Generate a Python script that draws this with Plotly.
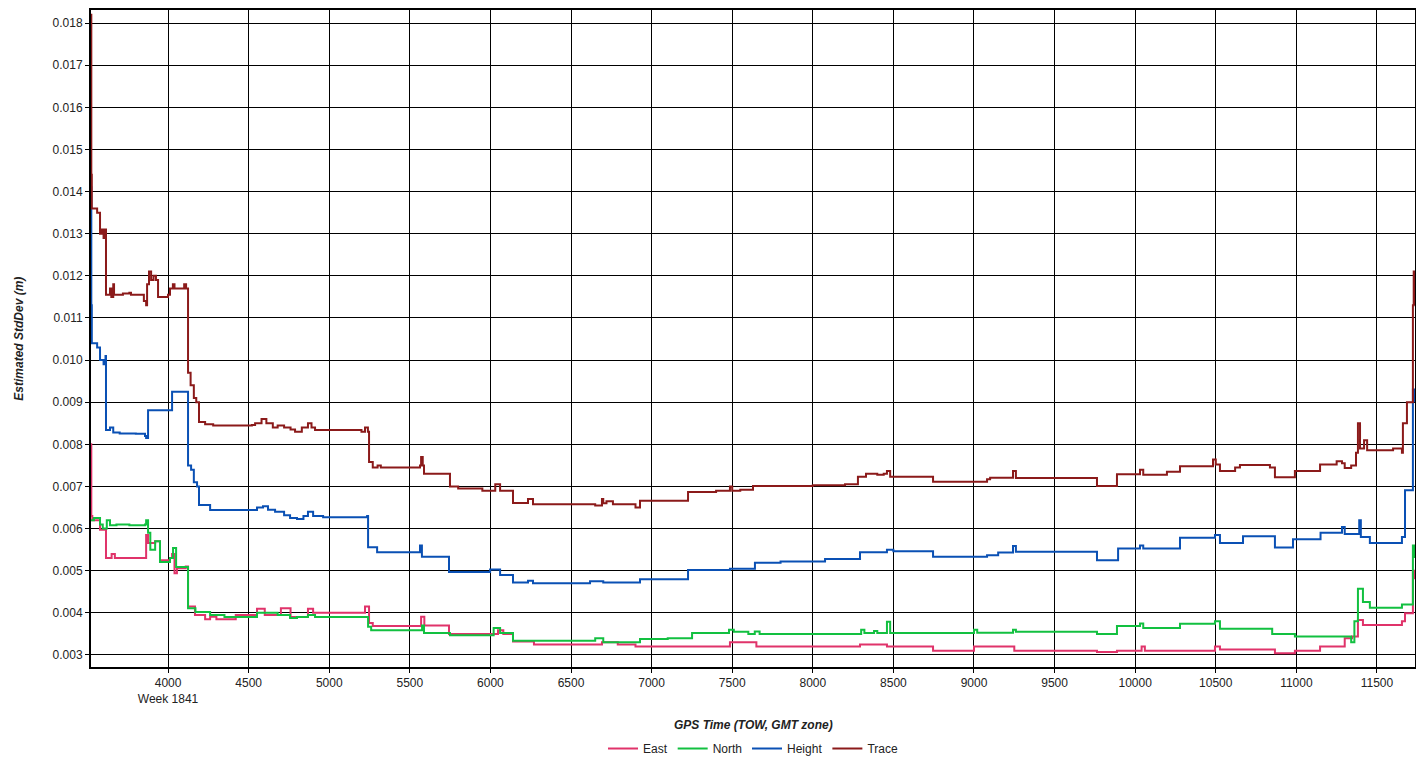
import plotly.graph_objects as go

# GPS time of week (s) and estimated std dev (m)
trace_x = [3522, 3524, 3527, 3560, 3578, 3590, 3600, 3612, 3615, 3640, 3648, 3660, 3665, 3720, 3760,
           3770, 3850, 3864, 3870, 3882, 3895, 3910, 3925, 3938, 4000, 4012, 4030, 4040, 4100, 4112,
           4124, 4140, 4160, 4175, 4192, 4230, 4280, 4520, 4540, 4580, 4610, 4650, 4680, 4720, 4760,
           4788, 4830, 4868, 4890, 4912, 5200, 5222, 5240, 5247, 5270, 5300, 5320, 5563, 5570, 5580,
           5588, 5749, 5800, 5950, 6030, 6060, 6140, 6233, 6264, 6650, 6692, 6700, 6720, 6760, 6900,
           6928, 7226, 7400, 7486, 7500, 7550, 7629, 8000, 8200, 8280, 8330, 8400, 8440, 8460, 8480,
           8746, 9081, 9100, 9242, 9260, 9763, 9887, 10030, 10050, 10197, 10278, 10483, 10500, 10526,
           10620, 10650, 10836, 10867, 10991, 11147, 11250, 11283, 11300, 11340, 11370, 11382, 11395,
           11420, 11439, 11600, 11655, 11661, 11686, 11723, 11728, 11735]
trace_y = [0.0182, 0.0144, 0.0136, 0.0135, 0.0130, 0.0131, 0.0129, 0.0131, 0.01155, 0.0117, 0.0115,
           0.0118, 0.01155, 0.01158, 0.0116, 0.01155, 0.0114, 0.0113, 0.0118, 0.0121, 0.0119, 0.0120,
           0.0119, 0.0115, 0.01155, 0.0117, 0.0118, 0.0117, 0.0118, 0.0117, 0.0097, 0.0094, 0.0091,
           0.0090, 0.00853, 0.00848, 0.00845, 0.00846, 0.0085, 0.0086, 0.0085, 0.0084, 0.00845,
           0.0084, 0.00835, 0.0083, 0.0084, 0.0085, 0.0084, 0.00834, 0.0083, 0.0084, 0.0083, 0.00758,
           0.00745, 0.0075, 0.00745, 0.0075, 0.0077, 0.0075, 0.0073, 0.0070, 0.00695, 0.0069, 0.00705,
           0.0069, 0.00661, 0.0067, 0.00658, 0.00655, 0.0067, 0.0066, 0.00665, 0.00658, 0.0065,
           0.00666, 0.00687, 0.0069, 0.0070, 0.0069, 0.00692, 0.00701, 0.00703, 0.00705, 0.00723,
           0.0073, 0.00728, 0.0073, 0.00737, 0.00723, 0.00711, 0.00717, 0.00721, 0.00737, 0.0072,
           0.00701, 0.00729, 0.0074, 0.00728, 0.00735, 0.00748, 0.00764, 0.00752, 0.00737, 0.00745,
           0.00751, 0.00745, 0.00722, 0.00737, 0.00752, 0.0076, 0.00755, 0.00744, 0.0075, 0.0078,
           0.0085, 0.0079, 0.0081, 0.00786, 0.0079, 0.0078, 0.0085, 0.0090, 0.0113, 0.0121, 0.0113]

height_x = [3522, 3524, 3527, 3560, 3578, 3600, 3612, 3615, 3640, 3660, 3700, 3800, 3857, 3864, 3876,
            4025, 4124, 4143, 4160, 4180, 4192, 4261, 4552, 4589, 4620, 4664, 4720, 4757, 4800, 4840,
            4868, 4900, 4962, 5235, 5241, 5297, 5563, 5575, 5743, 5998, 6060, 6140, 6233, 6264, 6618,
            6700, 6928, 7226, 7486, 7641, 7800, 8076, 8293, 8460, 8500, 8746, 9081, 9150, 9242, 9260,
            9763, 9894, 10030, 10050, 10278, 10495, 10526, 10669, 10867, 10979, 11150, 11283, 11300,
            11390, 11400, 11456, 11655, 11674, 11723, 11735]
height_y = [0.0141, 0.0113, 0.0104, 0.0103, 0.0100, 0.0099, 0.0101, 0.00834, 0.0084, 0.00828, 0.00826,
            0.00825, 0.0082, 0.00815, 0.00881, 0.00925, 0.0075, 0.0074, 0.0071, 0.0070, 0.00656,
            0.00644, 0.0065, 0.00653, 0.00645, 0.0064, 0.00632, 0.00625, 0.00623, 0.0063, 0.0064,
            0.0063, 0.00627, 0.0063, 0.00556, 0.00544, 0.0056, 0.00533, 0.00497, 0.00503, 0.0049,
            0.00472, 0.00476, 0.0047, 0.00475, 0.00472, 0.0048, 0.00502, 0.00505, 0.00519, 0.00522,
            0.00528, 0.00544, 0.0055, 0.00546, 0.00533, 0.00537, 0.00543, 0.00559, 0.00545, 0.00525,
            0.00553, 0.0056, 0.00553, 0.00578, 0.00585, 0.00566, 0.00582, 0.00555, 0.00575, 0.0059,
            0.00604, 0.00587, 0.0062, 0.0058, 0.00566, 0.0058, 0.00691, 0.0093, 0.0090]

north_x = [3522, 3540, 3578, 3595, 3620, 3640, 3680, 3760, 3857, 3864, 3876, 3890, 3920, 3950, 4012,
           4031, 4050, 4124, 4170, 4261, 4350, 4552, 4680, 4757, 4800, 4868, 4912, 5241, 5260, 5576,
           5588, 5749, 6020, 6060, 6140, 6650, 6700, 6928, 7100, 7251, 7480, 7510, 7600, 7640, 7670,
           8300, 8320, 8380, 8400, 8460, 8480, 9000, 9020, 9242, 9260, 9763, 9887, 10030, 10050, 10278,
           10495, 10526, 10850, 10991, 11340, 11360, 11382, 11413, 11456, 11655, 11723, 11735]
north_y = [0.0062, 0.00625, 0.0061, 0.0060, 0.0062, 0.00608, 0.0061, 0.00608, 0.0061, 0.0062, 0.0059,
           0.0055, 0.0057, 0.00521, 0.0053, 0.00554, 0.00509, 0.00411, 0.00402, 0.00395, 0.0039,
           0.0040, 0.00395, 0.00388, 0.0039, 0.00395, 0.0039, 0.00367, 0.00359, 0.0037, 0.00352,
           0.00347, 0.00364, 0.00352, 0.00334, 0.0034, 0.0033, 0.00338, 0.0034, 0.00352, 0.0036,
           0.00355, 0.0035, 0.00356, 0.0035, 0.0036, 0.00352, 0.00357, 0.00352, 0.00379, 0.00352,
           0.0036, 0.00353, 0.0036, 0.00355, 0.0035, 0.00369, 0.00375, 0.00364, 0.00374, 0.0038,
           0.00362, 0.0035, 0.00344, 0.0033, 0.0038, 0.00457, 0.00426, 0.00412, 0.0042, 0.0056, 0.0053]

east_x = [3522, 3524, 3530, 3578, 3615, 3650, 3670, 3864, 3876, 3920, 3950, 4012, 4025, 4040, 4055,
          4110, 4124, 4167, 4230, 4261, 4300, 4420, 4552, 4600, 4700, 4760, 4868, 4900, 5222, 5247,
          5270, 5570, 5590, 5743, 6047, 6080, 6140, 6270, 6692, 6790, 6900, 7486, 7650, 8293, 8460,
          8746, 9000, 9250, 9763, 9887, 10040, 10060, 10495, 10526, 10867, 10991, 11147, 11300,
          11345, 11382, 11413, 11655, 11674, 11723, 11735]
east_y = [0.0080, 0.0063, 0.0062, 0.00597, 0.0053, 0.0054, 0.0053, 0.00585, 0.00566, 0.0057, 0.00525,
          0.0053, 0.0054, 0.00494, 0.00506, 0.0051, 0.00415, 0.00395, 0.00385, 0.00391, 0.00385,
          0.00395, 0.0041, 0.00395, 0.00411, 0.0039, 0.0041, 0.0040, 0.00415, 0.00376, 0.00369,
          0.00391, 0.0037, 0.0035, 0.00359, 0.0035, 0.00332, 0.00325, 0.0033, 0.00325, 0.0032,
          0.0033, 0.0032, 0.00325, 0.0032, 0.0031, 0.0032, 0.0031, 0.00307, 0.0031, 0.0032, 0.0031,
          0.0032, 0.00313, 0.00304, 0.0031, 0.0032, 0.0034, 0.00344, 0.00383, 0.00371, 0.0038,
          0.00399, 0.0050, 0.0048]

x_ticks = [4000, 4500, 5000, 5500, 6000, 6500, 7000, 7500, 8000, 8500, 9000, 9500, 10000, 10500, 11000, 11500]
x_labels = ['4000<br>Week 1841'] + [str(v) for v in x_ticks[1:]]

series = [('East', east_x, east_y, '#e0336a'),
          ('North', north_x, north_y, '#12c040'),
          ('Height', height_x, height_y, '#0a50b4'),
          ('Trace', trace_x, trace_y, '#8b1a1a')]

fig = go.Figure()
for name, xs, ys, col in series:
    fig.add_trace(go.Scatter(x=xs, y=ys, name=name, mode='lines',
                             line=dict(color=col, width=2, shape='hv')))

# page body keeps an 8px margin, so the figure is sized to fit the window exactly
fig.update_layout(width=1408, height=748,
                  paper_bgcolor='white', plot_bgcolor='white',
                  font=dict(family='Liberation Sans, Arial', size=12, color='#222'),
                  margin=dict(l=83, r=1, t=2, b=89),
                  showlegend=True,
                  legend=dict(orientation='h', xref='paper', x=0.5, xanchor='center',
                              yref='container', y=0.0294, yanchor='top',
                              font=dict(size=12, color='#222'), borderwidth=0,
                              bgcolor='rgba(0,0,0,0)', tracegroupgap=0, itemwidth=30),
                  annotations=[
                      dict(text='<b><i>GPS Time (TOW, GMT zone)</i></b>', x=0.5, y=-0.0883,
                           xanchor='center', yanchor='middle',
                           xref='paper', yref='paper', showarrow=False, font=dict(size=12, color='#222')),
                      dict(text='<b><i>Estimated StdDev (m)</i></b>', x=-0.055, y=0.5, textangle=-90,
                           xanchor='center', yanchor='middle',
                           xref='paper', yref='paper', showarrow=False, font=dict(size=12, color='#222')),
                  ])
fig.update_xaxes(range=[3522, 11736], tickvals=x_ticks, ticktext=x_labels, automargin=False,
                 showgrid=True, gridcolor='black', gridwidth=1,
                 showline=True, linecolor='black', linewidth=2, mirror=True,
                 ticks='outside', ticklen=4, tickcolor='black', zeroline=False)
fig.update_yaxes(range=[0.002715, 0.01831], dtick=0.001, tick0=0.003, tickformat='.3f', automargin=False,
                 showgrid=True, gridcolor='black', gridwidth=1,
                 showline=True, linecolor='black', linewidth=2, mirror=True,
                 ticks='outside', ticklen=4, tickcolor='black', zeroline=False)

fig.write_html("out.html")
